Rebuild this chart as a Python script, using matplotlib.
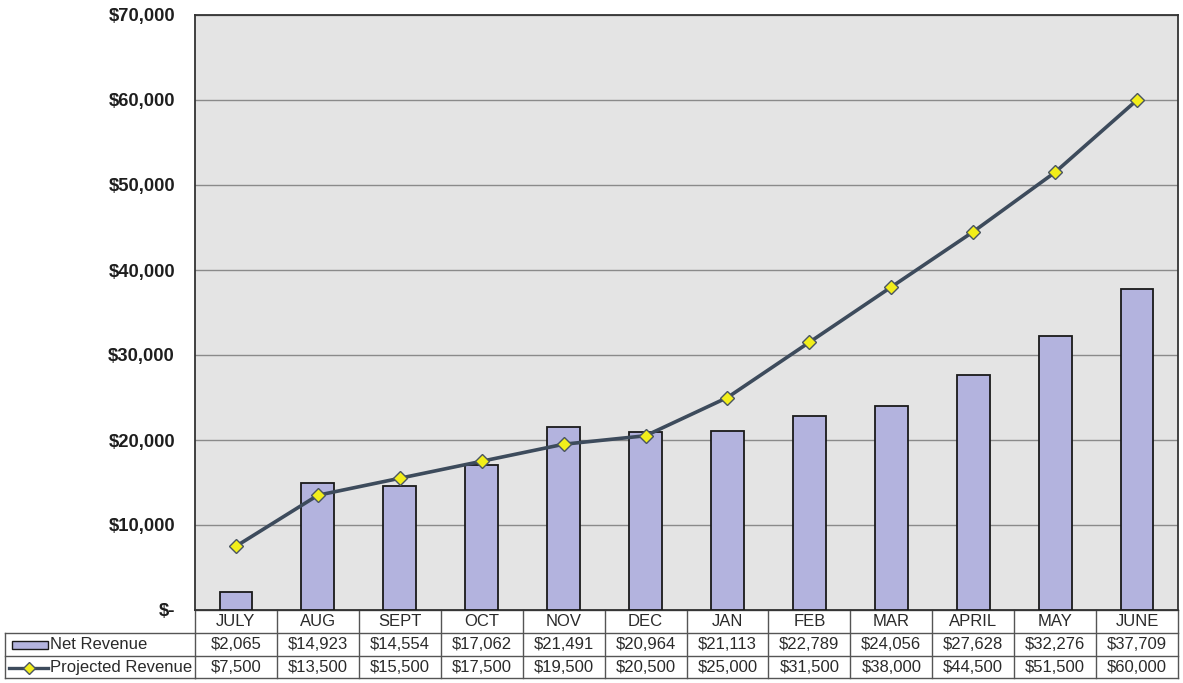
import matplotlib
matplotlib.use("Agg")
import matplotlib.pyplot as plt
from matplotlib.lines import Line2D
from matplotlib.patches import Rectangle
import numpy as np

months = ["JULY", "AUG", "SEPT", "OCT", "NOV", "DEC", "JAN", "FEB", "MAR", "APRIL", "MAY", "JUNE"]
net_revenue = [2065, 14923, 14554, 17062, 21491, 20964, 21113, 22789, 24056, 27628, 32276, 37709]
projected_revenue = [7500, 13500, 15500, 17500, 19500, 20500, 25000, 31500, 38000, 44500, 51500, 60000]
y_ticks = [0, 10000, 20000, 30000, 40000, 50000, 60000, 70000]
series_names = ["Net Revenue", "Projected Revenue"]

plt.rcParams["font.family"] = ["Liberation Sans", "DejaVu Sans"]

W, H = 1183, 683
fig = plt.figure(figsize=(W / 100, H / 100), dpi=100)
fig.patch.set_facecolor("white")

left, right, top, bottom = 195, 1178, 15, 610
ax = fig.add_axes([left / W, 1 - bottom / H, (right - left) / W, (bottom - top) / H])
ax.set_facecolor("#e4e4e4")

bar_color = "#b3b3de"
line_color = "#3d4b5c"
marker_color = "#f2ee1a"
text_color = "#2a2a2a"

x = np.arange(len(months))
ax.bar(x, net_revenue, width=0.4, color=bar_color, edgecolor="#1a1a1a", linewidth=1.3, zorder=3)
ax.plot(x, projected_revenue, color=line_color, linewidth=2.6, zorder=4,
        marker="D", markersize=7, markerfacecolor=marker_color,
        markeredgecolor="#4a5560", markeredgewidth=1.0)

ax.set_xlim(-0.5, len(months) - 0.5)
ax.set_ylim(0, 70000)
ax.set_yticks(y_ticks)
ax.set_yticklabels(["$-" if v == 0 else f"${v:,.0f}" for v in y_ticks],
                   fontsize=13.3, fontweight="bold", color="#1e1e1e")
ax.tick_params(axis="y", length=0, pad=14.4)
ax.set_xticks([])
ax.yaxis.grid(True, color="#8a8a8a", linewidth=1.0, zorder=0)
ax.set_axisbelow(True)
for s in ax.spines.values():
    s.set_color("#333333")
    s.set_linewidth(1.3)

# data table under the plot
row_h = 23.0
axes_h = bottom - top
tx = ax.get_xaxis_transform()   # x in data, y in axes fraction
ta = ax.transAxes


def ay(py):
    return (bottom - py) / axes_h


table_color = "#555555"
n = len(months)
rows_top = [bottom, bottom + row_h, bottom + 2 * row_h, bottom + 3 * row_h - 1]

# horizontal rules across the month columns
for py in rows_top:
    ax.add_line(Line2D([-0.5, n - 0.5], [ay(py), ay(py)], transform=tx,
                       color=table_color, linewidth=1.0, clip_on=False))
# vertical rules between months
for i in range(n + 1):
    ax.add_line(Line2D([i - 0.5, i - 0.5], [ay(rows_top[0]), ay(rows_top[-1])], transform=tx,
                       color=table_color, linewidth=1.0, clip_on=False))

# label column for the two series rows
lab_left = (5 - left) / (right - left)
for py in rows_top[1:]:
    ax.add_line(Line2D([lab_left, 0], [ay(py), ay(py)], transform=ta,
                       color=table_color, linewidth=1.0, clip_on=False))
ax.add_line(Line2D([lab_left, lab_left], [ay(rows_top[1]), ay(rows_top[-1])], transform=ta,
                   color=table_color, linewidth=1.0, clip_on=False))

cell_fs = 12
for i, m in enumerate(months):
    ax.text(i, ay(bottom + row_h / 2), m, transform=tx, ha="center", va="center",
            fontsize=cell_fs, color=text_color)
    ax.text(i, ay(bottom + 1.5 * row_h), f"${net_revenue[i]:,}", transform=tx,
            ha="center", va="center", fontsize=cell_fs, color=text_color)
    ax.text(i, ay(bottom + 2.5 * row_h), f"${projected_revenue[i]:,}", transform=tx,
            ha="center", va="center", fontsize=cell_fs, color=text_color)

# legend keys inside the label column
px = 1.0 / (right - left)
key_y1 = ay(bottom + 1.5 * row_h)
key_h = 8.0 / axes_h
ax.add_patch(Rectangle(((12 - left) * px, key_y1 - key_h / 2), 36 * px, key_h, transform=ta,
                       facecolor=bar_color, edgecolor="#1a1a1a", linewidth=1.0, clip_on=False))
ax.text((50 - left) * px, key_y1, series_names[0], transform=ta, ha="left", va="center",
        fontsize=cell_fs, color=text_color)

key_y2 = ay(bottom + 2.5 * row_h)
ax.add_line(Line2D([(9 - left) * px, (48 - left) * px], [key_y2, key_y2], transform=ta,
                   color=line_color, linewidth=2.4, clip_on=False))
ax.add_line(Line2D([(28.5 - left) * px], [key_y2], transform=ta, marker="D", markersize=6,
                   markerfacecolor=marker_color, markeredgecolor="#4a5560",
                   markeredgewidth=1.0, linestyle="none", clip_on=False))
ax.text((50 - left) * px, key_y2, series_names[1], transform=ta, ha="left", va="center",
        fontsize=cell_fs, color=text_color)

fig.savefig("out.png", dpi=100, facecolor="white")
